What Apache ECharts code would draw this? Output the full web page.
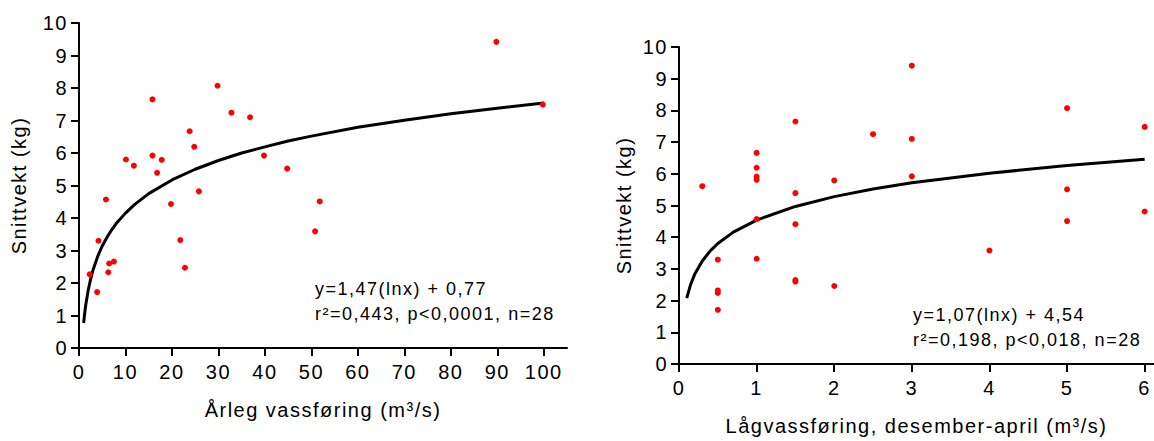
<!DOCTYPE html>
<html>
<head>
<meta charset="UTF-8">
<script src="https://cdn.jsdelivr.net/npm/echarts@6/dist/echarts.min.js"></script>
<title>Snittvekt mot vassføring</title>
<style>
  html, body { margin: 0; padding: 0; background: #fff; }
  #chart { width: 1154px; height: 441px; }
  /* teksten i originalen er breiare enn Arial */
  #chart text { letter-spacing: 1.5px; }
</style>
</head>
<body>
<div id="chart"></div>
<script type="text/javascript">
	// venstre: årleg vassføring (m3/s) mot snittvekt (kg)
	var arlegX = [5.8, 10.1, 11.8, 15.8, 15.8, 17.8, 16.8, 19.8, 23.8, 24.8, 25.8, 29.8, 32.8, 36.8,
	              39.8, 44.8, 4.2, 2.3, 3.9, 6.3, 6.5, 7.5, 21.8, 22.8, 89.8, 99.8, 51.8, 50.8];
	var arlegY = [4.57, 5.80, 5.61, 7.65, 5.92, 5.79, 5.39, 4.43, 6.67, 6.19, 4.82, 8.07, 7.24, 7.10,
	              5.92, 5.52, 3.30, 2.27, 1.72, 2.33, 2.60, 2.66, 3.32, 2.47, 9.42, 7.49, 4.51, 3.59];
	// trendlinje lest av figuren
	var arlegKurveX = [1, 1.25, 1.5, 2, 2.5, 3, 4, 5, 6, 7, 8, 10, 12, 15, 20, 25, 30, 35, 40, 45, 50, 60, 70, 80, 90, 100];
	var arlegKurveY = [0.77, 1.10, 1.37, 1.79, 2.12, 2.39, 2.81, 3.14, 3.40, 3.63, 3.83, 4.15, 4.42, 4.75,
	                   5.17, 5.50, 5.77, 6.00, 6.19, 6.37, 6.52, 6.79, 7.01, 7.21, 7.38, 7.54];
	var arlegTicks = [0, 10, 20, 30, 40, 50, 60, 70, 80, 90, 100];

	// høgre: lågvassføring desember-april
	var lagX = [0.3, 0.5, 0.5, 0.5, 0.5, 1, 1, 1, 1, 1, 1, 1.5, 1.5, 1.5, 1.5, 1.5, 2, 2, 2.5,
	            3, 3, 3, 4, 5, 5, 5, 6, 6];
	var lagY = [5.61, 3.29, 2.32, 2.24, 1.71, 6.66, 6.19, 5.91, 5.81, 4.57, 3.32, 7.65, 5.39, 4.41, 2.65, 2.60,
	            5.79, 2.46, 7.25, 9.41, 7.10, 5.92, 3.58, 8.07, 5.51, 4.51, 7.48, 4.81];
	var lagKurveX = [0.1, 0.15, 0.2, 0.3, 0.4, 0.5, 0.7, 1, 1.5, 2, 2.5, 3, 4, 5, 6];
	var lagKurveY = [2.08, 2.51, 2.82, 3.25, 3.56, 3.80, 4.16, 4.54, 4.97, 5.28, 5.52, 5.72, 6.02, 6.26, 6.46];
	var lagTicks = [0, 1, 2, 3, 4, 5, 6];

	var yTicks = [0, 1, 2, 3, 4, 5, 6, 7, 8, 9, 10];

	var tekstV = 'y=1,47(lnx) + 0,77\nr²=0,443, p<0,0001, n=28';
	var tekstH = 'y=1,07(lnx) + 4,54\nr²=0,198, p<0,018, n=28';

	function par(xs, ys) {
		var out = [];
		for (var i = 0; i < xs.length; i++) out.push([xs[i], ys[i]]);
		return out;
	}

	var font = 'Liberation Sans';
	var svart = '#000';

	function xAkse(idx, max, ticks, namn) {
		return {
			type: 'value', gridIndex: idx, min: 0, max: max,
			name: namn, nameLocation: 'middle', nameGap: 52,
			nameTextStyle: { fontFamily: font, fontSize: 20, color: svart },
			splitLine: { show: false },
			axisLine: { onZero: false, lineStyle: { color: svart, width: 2 } },
			axisTick: { customValues: ticks, length: 8, lineStyle: { color: svart, width: 2 } },
			axisLabel: { customValues: ticks, margin: 14, fontFamily: font, fontSize: 20, color: svart }
		};
	}
	function yAkse(idx, gap) {
		return {
			type: 'value', gridIndex: idx, min: 0, max: 10,
			name: 'Snittvekt (kg)', nameLocation: 'middle', nameGap: gap, nameRotate: 90,
			nameTextStyle: { fontFamily: font, fontSize: 20, color: svart },
			splitLine: { show: false },
			axisLine: { show: true, lineStyle: { color: svart, width: 2 } },
			axisTick: { show: true, customValues: yTicks, length: 8, lineStyle: { color: svart, width: 2 } },
			axisLabel: { customValues: yTicks, margin: 11, fontFamily: font, fontSize: 20, color: svart }
		};
	}

	var myChart = echarts.init(document.getElementById('chart'), null, { renderer: 'svg' });
	myChart.setOption({
		animation: false,
		grid: [
			{ left: 79, top: 23, width: 488, height: 325 },
			{ left: 679, top: 47, width: 475, height: 321 }
		],
		xAxis: [
			xAkse(0, 105, arlegTicks, 'Årleg vassføring (m³/s)'),
			xAkse(1, 6.12, lagTicks, 'Lågvassføring, desember-april (m³/s)')
		],
		yAxis: [yAkse(0, 50), yAkse(1, 45)],
		graphic: [
			{ type: 'text', left: 315, top: 276,
			  style: { text: tekstV, font: '18px "Liberation Sans"', fill: svart, lineHeight: 25 } },
			{ type: 'text', left: 913, top: 302,
			  style: { text: tekstH, font: '18px "Liberation Sans"', fill: svart, lineHeight: 25 } }
		],
		series: [
			{
				type: 'line', xAxisIndex: 0, yAxisIndex: 0, data: par(arlegKurveX, arlegKurveY),
				showSymbol: false, lineStyle: { color: svart, width: 3, join: 'round' }, z: 2
			},
			{
				type: 'scatter', xAxisIndex: 0, yAxisIndex: 0, data: par(arlegX, arlegY),
				symbolSize: 6, itemStyle: { color: '#ff0000', opacity: 1 }, z: 3
			},
			{
				type: 'line', xAxisIndex: 1, yAxisIndex: 1, data: par(lagKurveX, lagKurveY),
				showSymbol: false, lineStyle: { color: svart, width: 3, join: 'round' }, z: 2
			},
			{
				type: 'scatter', xAxisIndex: 1, yAxisIndex: 1, data: par(lagX, lagY),
				symbolSize: 6, itemStyle: { color: '#ff0000', opacity: 1 }, z: 3
			}
		]
	});
</script>
</body>
</html>
